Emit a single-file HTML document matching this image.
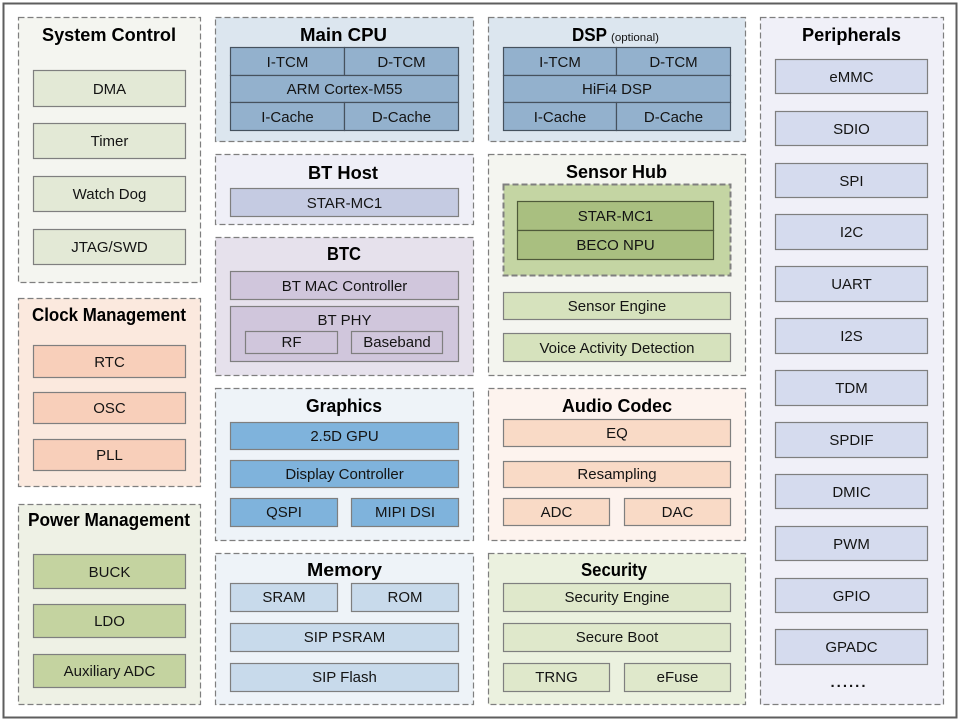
<!DOCTYPE html>
<html><head><meta charset="utf-8"><style>
html,body{margin:0;padding:0;background:#fff;}
svg{display:block;}
text{font-family:"Liberation Sans",Arial,sans-serif;fill:#141414;}
.t{font-size:18px;font-weight:bold;fill:#000;}
.l{font-size:15px;}
.p{stroke:#7f7f7f;stroke-width:1.2;stroke-dasharray:6 3;}
.b{stroke:#7f7f7f;stroke-width:1.2;}
.d{stroke:#46525e;stroke-width:1.2;}
.g{stroke:#4f5a3a;stroke-width:1.2;}
</style></head><body>
<svg width="960" height="723" viewBox="0 0 960 723" xmlns="http://www.w3.org/2000/svg">
<rect x="0" y="0" width="960" height="723" fill="#fff"/>
<rect x="3.5" y="3.5" width="953" height="714" fill="#fff" stroke="#5e5e5e" stroke-width="2"/>

<!-- Panels -->
<rect class="p" x="18.5" y="17.5" width="182" height="265" fill="#f4f5f0"/>
<rect class="p" x="18.5" y="298.5" width="182" height="188" fill="#fbe9de"/>
<rect class="p" x="18.5" y="504.5" width="182" height="200" fill="#eef1e5"/>
<rect class="p" x="215.5" y="17.5" width="258" height="124" fill="#dce6ef"/>
<rect class="p" x="215.5" y="154.5" width="258" height="70" fill="#efeff7"/>
<rect class="p" x="215.5" y="237.5" width="258" height="138" fill="#e6e1ec"/>
<rect class="p" x="215.5" y="388.5" width="258" height="152" fill="#eef3f8"/>
<rect class="p" x="215.5" y="553.5" width="258" height="151" fill="#eef3f8"/>
<rect class="p" x="488.5" y="17.5" width="257" height="124" fill="#dce6ef"/>
<rect class="p" x="488.5" y="154.5" width="257" height="221" fill="#f4f5f0"/>
<rect class="p" x="488.5" y="388.5" width="257" height="152" fill="#fdf3ee"/>
<rect class="p" x="488.5" y="553.5" width="257" height="151" fill="#ebf1df"/>
<rect class="p" x="760.5" y="17.5" width="183" height="687" fill="#f0f0f8"/>

<!-- Titles -->
<text class="t" x="109" y="41" text-anchor="middle" textLength="134" lengthAdjust="spacingAndGlyphs">System Control</text>
<text class="t" x="109" y="321" text-anchor="middle" textLength="154" lengthAdjust="spacingAndGlyphs">Clock Management</text>
<text class="t" x="109" y="526" text-anchor="middle" textLength="162" lengthAdjust="spacingAndGlyphs">Power Management</text>
<text class="t" x="343.5" y="41" text-anchor="middle" textLength="87" lengthAdjust="spacingAndGlyphs">Main CPU</text>
<text class="t" x="343" y="179" text-anchor="middle" textLength="70" lengthAdjust="spacingAndGlyphs">BT Host</text>
<text class="t" x="344" y="260" text-anchor="middle" textLength="34" lengthAdjust="spacingAndGlyphs">BTC</text>
<text class="t" x="344" y="412" text-anchor="middle" textLength="76" lengthAdjust="spacingAndGlyphs">Graphics</text>
<text class="t" x="344.5" y="576" text-anchor="middle" textLength="75" lengthAdjust="spacingAndGlyphs">Memory</text>
<text class="t" x="572" y="41" textLength="35" lengthAdjust="spacingAndGlyphs">DSP</text>
<text x="611" y="41" style="font-size:11px" textLength="48" lengthAdjust="spacingAndGlyphs">(optional)</text>
<text class="t" x="616.5" y="178" text-anchor="middle" textLength="101" lengthAdjust="spacingAndGlyphs">Sensor Hub</text>
<text class="t" x="617" y="412" text-anchor="middle" textLength="110" lengthAdjust="spacingAndGlyphs">Audio Codec</text>
<text class="t" x="614" y="576" text-anchor="middle" textLength="66" lengthAdjust="spacingAndGlyphs">Security</text>
<text class="t" x="851.5" y="41" text-anchor="middle" textLength="99" lengthAdjust="spacingAndGlyphs">Peripherals</text>

<!-- System Control items -->
<g fill="#e3e9d6">
<rect class="b" x="33.5" y="70.5" width="152" height="36"/>
<rect class="b" x="33.5" y="123.5" width="152" height="35"/>
<rect class="b" x="33.5" y="176.5" width="152" height="35"/>
<rect class="b" x="33.5" y="229.5" width="152" height="35"/>
</g>
<g text-anchor="middle">
<text class="l" x="109.5" y="94">DMA</text>
<text class="l" x="109.5" y="146">Timer</text>
<text class="l" x="109.5" y="199">Watch Dog</text>
<text class="l" x="109.5" y="252">JTAG/SWD</text>
</g>

<!-- Clock items -->
<g fill="#f8cfba">
<rect class="b" x="33.5" y="345.5" width="152" height="32"/>
<rect class="b" x="33.5" y="392.5" width="152" height="31"/>
<rect class="b" x="33.5" y="439.5" width="152" height="31"/>
</g>
<g text-anchor="middle">
<text class="l" x="109.5" y="367">RTC</text>
<text class="l" x="109.5" y="413">OSC</text>
<text class="l" x="109.5" y="460">PLL</text>
</g>

<!-- Power items -->
<g fill="#c4d3a0">
<rect class="b" x="33.5" y="554.5" width="152" height="34"/>
<rect class="b" x="33.5" y="604.5" width="152" height="33"/>
<rect class="b" x="33.5" y="654.5" width="152" height="33"/>
</g>
<g text-anchor="middle">
<text class="l" x="109.5" y="577">BUCK</text>
<text class="l" x="109.5" y="626">LDO</text>
<text class="l" x="109.5" y="676">Auxiliary ADC</text>
</g>

<!-- Main CPU table -->
<g fill="#93b1cd">
<rect class="d" x="230.5" y="47.5" width="114" height="28"/>
<rect class="d" x="344.5" y="47.5" width="114" height="28"/>
<rect class="d" x="230.5" y="75.5" width="228" height="27"/>
<rect class="d" x="230.5" y="102.5" width="114" height="28"/>
<rect class="d" x="344.5" y="102.5" width="114" height="28"/>
</g>
<g text-anchor="middle">
<text class="l" x="287.5" y="67">I-TCM</text>
<text class="l" x="401.5" y="67">D-TCM</text>
<text class="l" x="344.5" y="94">ARM Cortex-M55</text>
<text class="l" x="287.5" y="122">I-Cache</text>
<text class="l" x="401.5" y="122">D-Cache</text>
</g>

<!-- DSP table -->
<g fill="#93b1cd">
<rect class="d" x="503.5" y="47.5" width="113" height="28"/>
<rect class="d" x="616.5" y="47.5" width="114" height="28"/>
<rect class="d" x="503.5" y="75.5" width="227" height="27"/>
<rect class="d" x="503.5" y="102.5" width="113" height="28"/>
<rect class="d" x="616.5" y="102.5" width="114" height="28"/>
</g>
<g text-anchor="middle">
<text class="l" x="560" y="67">I-TCM</text>
<text class="l" x="673.5" y="67">D-TCM</text>
<text class="l" x="617" y="94">HiFi4 DSP</text>
<text class="l" x="560" y="122">I-Cache</text>
<text class="l" x="673.5" y="122">D-Cache</text>
</g>

<!-- BT Host -->
<rect class="b" x="230.5" y="188.5" width="228" height="28" fill="#c5cbe2"/>
<text class="l" x="344.5" y="208" text-anchor="middle">STAR-MC1</text>

<!-- BTC -->
<g fill="#d0c6dc">
<rect class="b" x="230.5" y="271.5" width="228" height="28"/>
<rect class="b" x="230.5" y="306.5" width="228" height="55"/>
<rect class="b" x="245.5" y="331.5" width="92" height="22"/>
<rect class="b" x="351.5" y="331.5" width="91" height="22"/>
</g>
<g text-anchor="middle">
<text class="l" x="344.5" y="291">BT MAC Controller</text>
<text class="l" x="344.5" y="325">BT PHY</text>
<text class="l" x="291.5" y="347">RF</text>
<text class="l" x="397" y="347">Baseband</text>
</g>

<!-- Graphics -->
<g fill="#7fb3dc">
<rect class="b" x="230.5" y="422.5" width="228" height="27"/>
<rect class="b" x="230.5" y="460.5" width="228" height="27"/>
<rect class="b" x="230.5" y="498.5" width="107" height="28"/>
<rect class="b" x="351.5" y="498.5" width="107" height="28"/>
</g>
<g text-anchor="middle">
<text class="l" x="344.5" y="441">2.5D GPU</text>
<text class="l" x="344.5" y="479">Display Controller</text>
<text class="l" x="284" y="517">QSPI</text>
<text class="l" x="405" y="517">MIPI DSI</text>
</g>

<!-- Memory -->
<g fill="#c8daeb">
<rect class="b" x="230.5" y="583.5" width="107" height="28"/>
<rect class="b" x="351.5" y="583.5" width="107" height="28"/>
<rect class="b" x="230.5" y="623.5" width="228" height="28"/>
<rect class="b" x="230.5" y="663.5" width="228" height="28"/>
</g>
<g text-anchor="middle">
<text class="l" x="284" y="602">SRAM</text>
<text class="l" x="405" y="602">ROM</text>
<text class="l" x="344.5" y="642">SIP PSRAM</text>
<text class="l" x="344.5" y="682">SIP Flash</text>
</g>

<!-- Sensor Hub -->
<rect class="p" x="503.5" y="184.5" width="227" height="91" fill="#c4d5a3" style="stroke-width:2"/>
<g fill="#a9bf80">
<rect class="g" x="517.5" y="201.5" width="196" height="29"/>
<rect class="g" x="517.5" y="230.5" width="196" height="29"/>
</g>
<g fill="#d6e2bd">
<rect class="b" x="503.5" y="292.5" width="227" height="27"/>
<rect class="b" x="503.5" y="333.5" width="227" height="28"/>
</g>
<g text-anchor="middle">
<text class="l" x="615.5" y="221">STAR-MC1</text>
<text class="l" x="615.5" y="250">BECO NPU</text>
<text class="l" x="617" y="311">Sensor Engine</text>
<text class="l" x="617" y="353">Voice Activity Detection</text>
</g>

<!-- Audio Codec -->
<g fill="#f9dac6">
<rect class="b" x="503.5" y="419.5" width="227" height="27"/>
<rect class="b" x="503.5" y="461.5" width="227" height="26"/>
<rect class="b" x="503.5" y="498.5" width="106" height="27"/>
<rect class="b" x="624.5" y="498.5" width="106" height="27"/>
</g>
<g text-anchor="middle">
<text class="l" x="617" y="438">EQ</text>
<text class="l" x="617" y="479">Resampling</text>
<text class="l" x="556.5" y="517">ADC</text>
<text class="l" x="677.5" y="517">DAC</text>
</g>

<!-- Security -->
<g fill="#dfe8cb">
<rect class="b" x="503.5" y="583.5" width="227" height="28"/>
<rect class="b" x="503.5" y="623.5" width="227" height="28"/>
<rect class="b" x="503.5" y="663.5" width="106" height="28"/>
<rect class="b" x="624.5" y="663.5" width="106" height="28"/>
</g>
<g text-anchor="middle">
<text class="l" x="617" y="602">Security Engine</text>
<text class="l" x="617" y="642">Secure Boot</text>
<text class="l" x="556.5" y="682">TRNG</text>
<text class="l" x="677.5" y="682">eFuse</text>
</g>

<!-- Peripherals -->
<g fill="#d5dbee">
<rect class="b" x="775.5" y="59.5" width="152" height="34"/>
<rect class="b" x="775.5" y="111.5" width="152" height="34"/>
<rect class="b" x="775.5" y="163.5" width="152" height="34"/>
<rect class="b" x="775.5" y="214.5" width="152" height="35"/>
<rect class="b" x="775.5" y="266.5" width="152" height="35"/>
<rect class="b" x="775.5" y="318.5" width="152" height="35"/>
<rect class="b" x="775.5" y="370.5" width="152" height="35"/>
<rect class="b" x="775.5" y="422.5" width="152" height="35"/>
<rect class="b" x="775.5" y="474.5" width="152" height="34"/>
<rect class="b" x="775.5" y="526.5" width="152" height="34"/>
<rect class="b" x="775.5" y="578.5" width="152" height="34"/>
<rect class="b" x="775.5" y="629.5" width="152" height="35"/>
</g>
<g text-anchor="middle">
<text class="l" x="851.5" y="82">eMMC</text>
<text class="l" x="851.5" y="134">SDIO</text>
<text class="l" x="851.5" y="186">SPI</text>
<text class="l" x="851.5" y="237">I2C</text>
<text class="l" x="851.5" y="289">UART</text>
<text class="l" x="851.5" y="341">I2S</text>
<text class="l" x="851.5" y="393">TDM</text>
<text class="l" x="851.5" y="445">SPDIF</text>
<text class="l" x="851.5" y="497">DMIC</text>
<text class="l" x="851.5" y="549">PWM</text>
<text class="l" x="851.5" y="601">GPIO</text>
<text class="l" x="851.5" y="652">GPADC</text>
<text class="l" x="848" y="687" style="font-weight:bold" textLength="35" lengthAdjust="spacing">......</text>
</g>
</svg>
</body></html>
